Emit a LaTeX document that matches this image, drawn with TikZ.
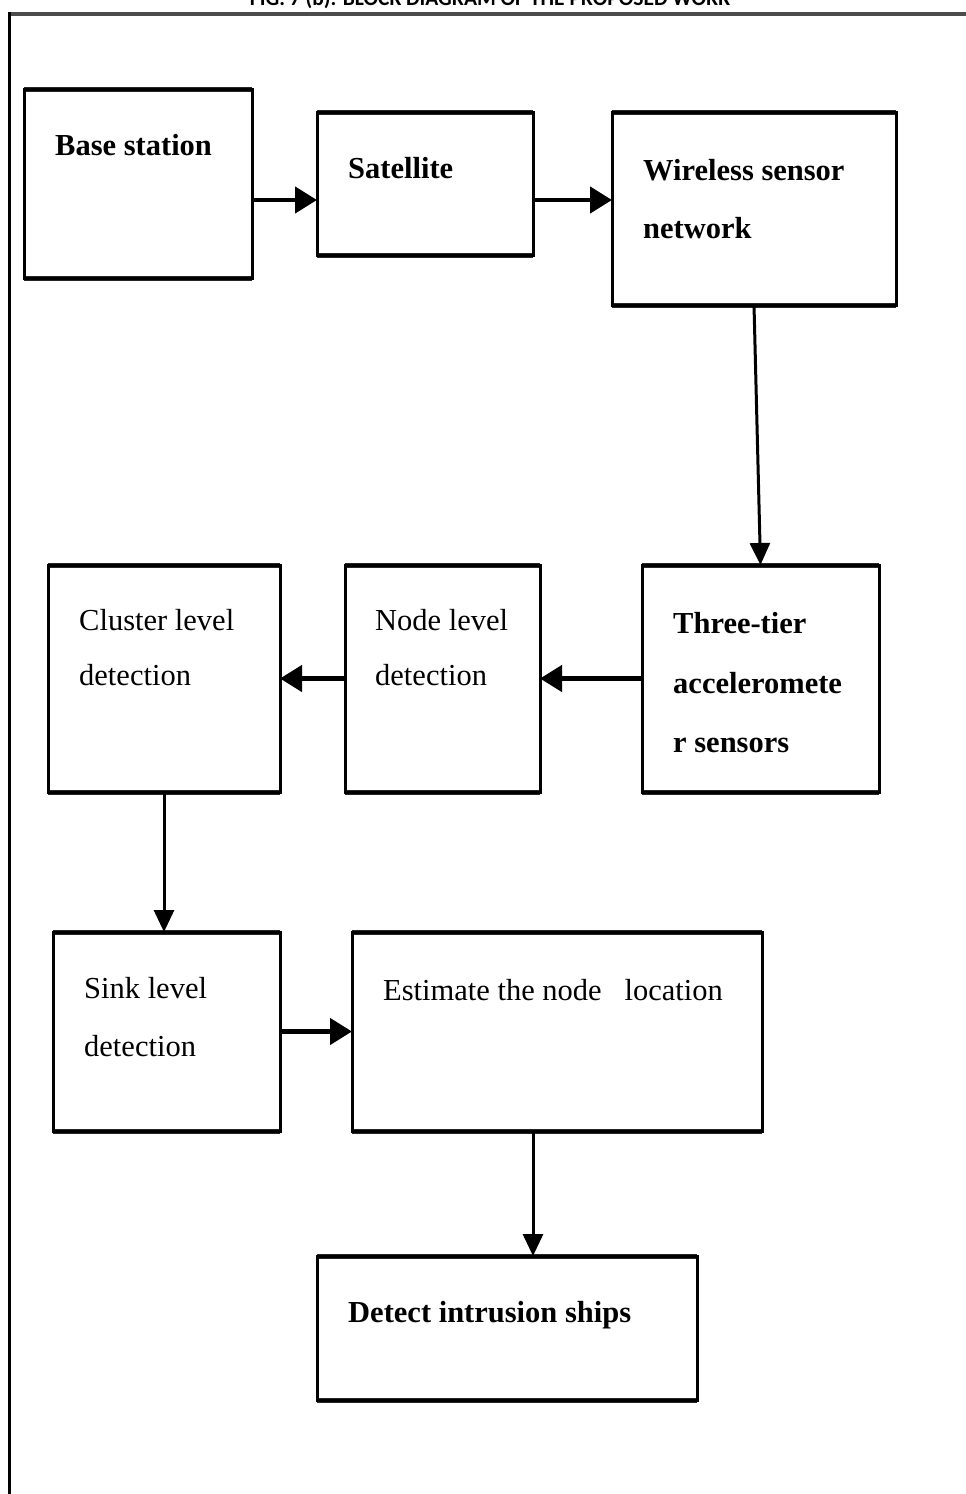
\documentclass[tikz,border=0pt]{standalone}
\usepackage{fontspec}
\setmainfont{Liberation Serif}
\newfontfamily\capfont{Carlito}
\usetikzlibrary{arrows.meta}
\begin{document}
\begin{tikzpicture}[x=1pt,y=-1pt,
  blk/.style={draw=black, line width=3pt, inner sep=0pt, outer sep=0pt,
    append after command={
      \pgfextra{\draw[line width=5pt, draw=black!85]
        (\tikzlastnode.north west) -- (\tikzlastnode.north east)
        (\tikzlastnode.south west) -- (\tikzlastnode.south east);}}},
  bt/.style={anchor=base west, inner sep=0pt, font=\fontsize{30.5}{36}\selectfont\bfseries},
  rt/.style={anchor=base west, inner sep=0pt, font=\fontsize{30.5}{36}\selectfont},
  harr/.style={line width=4.5pt, -{Triangle[length=22pt,width=26pt]}},
  varr/.style={line width=3pt, -{Triangle[length=22pt,width=20pt]}}]
\useasboundingbox (0,0) rectangle (966,1494);
\fill[white] (0,0) rectangle (966,1494);
% caption (cut off by the page top, as in the reference)
\node[anchor=base, inner sep=0pt, font=\capfont\bfseries\fontsize{21.5}{24}\selectfont] (cap) at (490,5) {FIG. 7 (b). BLOCK DIAGRAM OF THE PROPOSED WORK};
% frame
\draw[line width=4.5pt, draw=black!70] (8,14) -- (966,14);
\draw[line width=3pt, draw=black] (9.5,12) -- (9.5,1494);
% boxes
\node[blk, minimum width=228pt, minimum height=189pt] (base) at (138,183.5) {};
\node[blk, minimum width=216pt, minimum height=143pt] (sat) at (425,183.5) {};
\node[blk, minimum width=284pt, minimum height=193pt] (wsn) at (754,208.5) {};
\node[blk, minimum width=237pt, minimum height=227pt] (three) at (760.5,678.5) {};
\node[blk, minimum width=195pt, minimum height=227pt] (nodel) at (442.5,678.5) {};
\node[blk, minimum width=232pt, minimum height=227pt] (clus) at (164,678.5) {};
\node[blk, minimum width=227pt, minimum height=199pt] (sink) at (166.5,1031.5) {};
\node[blk, minimum width=410pt, minimum height=199pt] (est) at (557,1031.5) {};
\node[blk, minimum width=380pt, minimum height=144pt] (det) at (507,1328) {};
% texts
\node[bt] (t1) at (55,155) {Base station};
\node[bt] (t2) at (348,178) {Satellite};
\node[bt] (t3a) at (643,180) {Wireless sensor};
\node[bt] (t3b) at (643,238) {network};
\node[bt] (t4a) at (673,633) {Three-tier};
\node[bt] (t4b) at (673,693) {acceleromete};
\node[bt] (t4c) at (673,752) {r sensors};
\node[rt] (t5a) at (375,630) {Node level};
\node[rt] (t5b) at (375,685) {detection};
\node[rt] (t6a) at (79,630) {Cluster level};
\node[rt] (t6b) at (79,685) {detection};
\node[rt] (t7a) at (84,998) {Sink level};
\node[rt] (t7b) at (84,1056) {detection};
\node[rt] (t8) at (383,1000) {Estimate the node\ \ \ location};
\node[bt] (t9) at (348,1322) {Detect intrusion ships};
% connectors
\draw[harr] ([yshift=-16.5pt]base.east) -- ([yshift=-16.5pt]sat.west);
\draw[harr] ([yshift=-16.5pt]sat.east) -- ([yshift=-16.5pt]sat.east -| wsn.west);
\draw[varr] (wsn.south) -- (three.north);
\draw[harr] (three.west) -- (nodel.east);
\draw[harr] (nodel.west) -- (clus.east);
\draw[varr] (clus.south) -- (clus.south |- sink.north);
\draw[harr] (sink.east) -- (est.west);
\draw[varr] ([xshift=-24pt]est.south) -- ([xshift=-24pt]est.south |- det.north);
\end{tikzpicture}
\end{document}
